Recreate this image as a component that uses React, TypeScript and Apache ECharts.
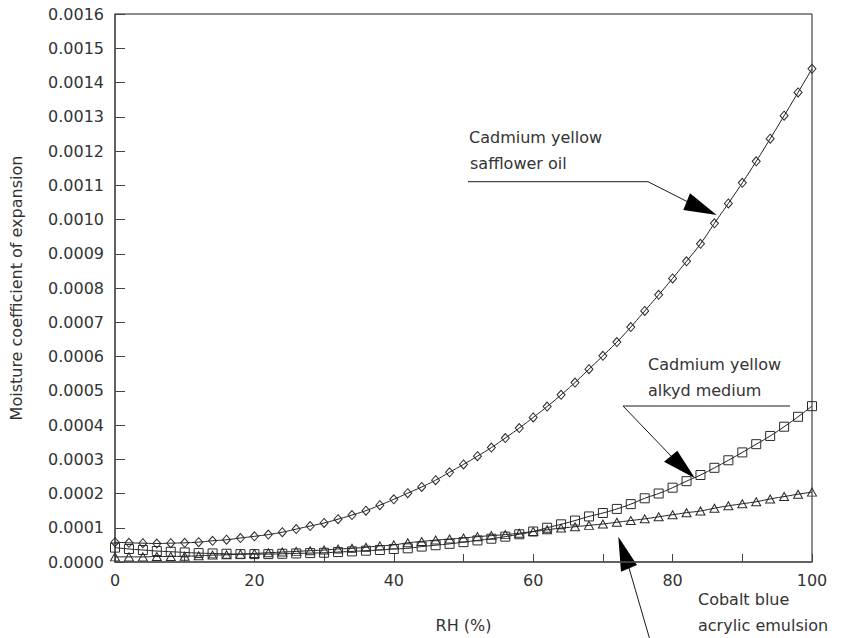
import React, { useEffect, useRef } from "react";
import * as echarts from "echarts";

const rh = [0, 2, 4, 6, 8, 10, 12, 14, 16, 18, 20, 22, 24, 26, 28, 30, 32, 34, 36, 38, 40, 42, 44, 46, 48, 50, 52, 54, 56, 58, 60, 62, 64, 66, 68, 70, 72, 74, 76, 78, 80, 82, 84, 86, 88, 90, 92, 94, 96, 98, 100];

const safflowerOil = [0.000058, 0.000056, 0.000055, 0.000054, 0.000055, 0.000056, 0.000058, 0.000062, 0.000065, 0.00007, 0.000075, 0.00008, 0.000087, 0.000096, 0.000105, 0.000114, 0.000125, 0.000137, 0.00015, 0.000166, 0.000183, 0.000201, 0.000219, 0.000239, 0.000262, 0.000285, 0.000309, 0.000334, 0.000362, 0.000391, 0.000422, 0.000454, 0.000488, 0.000524, 0.000563, 0.000602, 0.000642, 0.000686, 0.000733, 0.00078, 0.000828, 0.000878, 0.000929, 0.000989, 0.001047, 0.001107, 0.00117, 0.001236, 0.001303, 0.001371, 0.00144];

const alkydMedium = [0.000042, 0.000038, 0.000035, 0.000032, 0.00003, 0.000028, 0.000026, 0.000025, 0.000024, 0.000023, 0.000023, 0.000023, 0.000024, 0.000025, 0.000026, 0.000027, 0.000029, 0.000031, 0.000033, 0.000035, 0.000038, 0.00004, 0.000045, 0.000049, 0.000053, 0.000058, 0.000063, 0.000068, 0.000074, 0.000081, 0.000089, 0.0001, 0.00011, 0.000121, 0.000133, 0.000143, 0.000155, 0.000169, 0.000186, 0.0002, 0.000217, 0.000236, 0.000254, 0.000275, 0.000297, 0.00032, 0.000344, 0.000368, 0.000395, 0.000424, 0.000455];

const acrylicEmulsion = [0.000015, 0.000015, 0.000015, 0.000016, 0.000016, 0.000017, 0.000018, 0.00002, 0.000021, 0.000023, 0.000025, 0.000027, 0.000029, 0.000031, 0.000033, 0.000035, 0.000038, 0.00004, 0.000043, 0.000047, 0.00005, 0.000056, 0.00006, 0.000064, 0.000067, 0.00007, 0.000074, 0.000077, 0.00008, 0.000084, 0.000089, 0.000094, 0.000099, 0.000103, 0.000107, 0.000111, 0.000116, 0.000121, 0.000126, 0.000132, 0.000138, 0.000144, 0.000149, 0.000157, 0.000164, 0.00017, 0.000176, 0.000184, 0.000191, 0.000198, 0.000204];

const FONT = '"DejaVu Sans ExtraLight", "DejaVu Sans", sans-serif';
const TXT = "#333333";
const INK = "#1a1a1a";

function pairs(ys: number[]) {
  return rh.map((x, i) => [x, ys[i]]);
}

function mkSeries(name: string, ys: number[], symbol: string, size: number | number[]) {
  return {
    name,
    type: "line",
    data: pairs(ys),
    smooth: true,
    symbol,
    symbolSize: size,
    showAllSymbol: true,
    lineStyle: { color: INK, width: 1 },
    itemStyle: { color: "rgba(255,255,255,0)", borderColor: "#2a2a2a", borderWidth: 1 },
    emphasis: { disabled: true },
  };
}

function txt(text: string, x: number, y: number) {
  return {
    type: "text",
    style: { text, x, y, font: `16px ${FONT}`, fill: TXT, align: "left", verticalAlign: "middle" },
  };
}

export default function App() {
  const ref = useRef<HTMLDivElement>(null);
  useEffect(() => {
    if (!ref.current) return;
    const chart = echarts.init(ref.current, undefined, { renderer: "svg" });
    chart.setOption({
      animation: false,
      backgroundColor: "#ffffff",
      grid: { left: 114, right: 45, top: 14, bottom: 74, show: true, borderColor: INK, borderWidth: 1, backgroundColor: "transparent" },
      xAxis: {
        type: "value",
        min: 0,
        max: 100,
        interval: 10,
        name: "RH (%)",
        nameLocation: "middle",
        nameGap: 55,
        nameTextStyle: { fontFamily: FONT, fontSize: 16, color: TXT },
        axisLine: { show: true, lineStyle: { color: "#555", width: 1.5 } },
        axisTick: { show: true, inside: true, length: 8, lineStyle: { color: "#444" } },
        axisLabel: {
          margin: 10,
          fontFamily: FONT,
          fontSize: 16,
          color: TXT,
          formatter: (v: number) => (Math.round(v) % 20 === 0 ? String(Math.round(v)) : ""),
        },
        splitLine: { show: false },
      },
      yAxis: {
        type: "value",
        min: 0,
        max: 0.0016,
        interval: 0.0001,
        name: "Moisture coefficient of expansion",
        nameLocation: "middle",
        nameGap: 91,
        nameRotate: 90,
        nameTextStyle: { fontFamily: FONT, fontSize: 16, color: TXT },
        axisLine: { show: true, lineStyle: { color: "#555", width: 1.5 } },
        axisTick: { show: true, inside: true, length: 10, lineStyle: { color: "#444" } },
        axisLabel: {
          margin: 11,
          fontFamily: FONT,
          fontSize: 16,
          color: TXT,
          formatter: (v: number) => v.toFixed(4),
        },
        splitLine: { show: false },
      },
      series: [
        mkSeries("Cobalt blue acrylic emulsion", acrylicEmulsion, "triangle", [9, 8]),
        mkSeries("Cadmium yellow alkyd medium", alkydMedium, "rect", 9),
        mkSeries("Cadmium yellow safflower oil", safflowerOil, "diamond", [8, 9]),
      ],
      graphic: [
        txt("Cadmium yellow", 469, 137),
        txt("safflower oil", 470, 163),
        { type: "polyline", shape: { points: [[468, 181.7], [648, 181.7], [687, 201.5]] }, style: { stroke: INK, lineWidth: 1, fill: null } },
        { type: "polygon", shape: { points: [[716.7, 215], [690, 193.3], [683.3, 210]] }, style: { fill: "#000" } },

        txt("Cadmium yellow", 648, 364),
        txt("alkyd medium", 648, 390),
        { type: "line", shape: { x1: 623, y1: 406, x2: 790, y2: 406 }, style: { stroke: INK, lineWidth: 1 } },
        { type: "line", shape: { x1: 623, y1: 406, x2: 671, y2: 456 }, style: { stroke: INK, lineWidth: 1 } },
        { type: "polygon", shape: { points: [[695, 478.3], [677.3, 450.7], [664, 461.7]] }, style: { fill: "#000" } },

        txt("Cobalt blue", 698, 599),
        txt("acrylic emulsion", 698, 625),
        { type: "line", shape: { x1: 629, y1: 568, x2: 650, y2: 640 }, style: { stroke: INK, lineWidth: 1 } },
        { type: "polygon", shape: { points: [[618.3, 536.7], [621, 571.7], [637, 565]] }, style: { fill: "#000" } },
      ],
    });
    return () => chart.dispose();
  }, []);
  return <div ref={ref} style={{ position: "fixed", left: 0, top: 0, width: 857, height: 638 }} />;
}
